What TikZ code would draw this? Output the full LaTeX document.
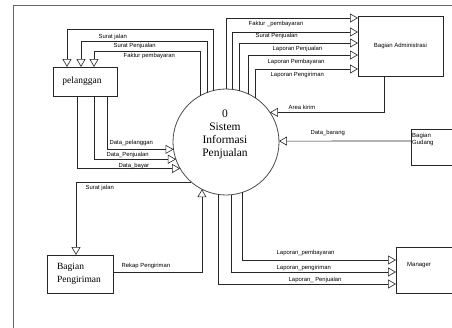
\documentclass[tikz,border=0pt]{standalone}
\usepackage{fontspec}
\setmainfont{Liberation Serif}
\setsansfont{Liberation Sans}
\usetikzlibrary{arrows.meta}
\begin{document}
\begin{tikzpicture}[x=1pt,y=-1pt,
  frame/.style={draw=black!60, line width=1pt},
  box/.style={draw=black!85, line width=0.8pt, rectangle, inner sep=1pt, outer sep=0pt, anchor=north west},
  flow/.style={draw=black!85, line width=0.6pt, -{Triangle[open,length=8pt,width=9pt]}},
  lbl/.style={font=\sffamily\fontsize{5.9}{6.6}\selectfont, inner sep=0.5pt, anchor=west},
  serif/.style={font=\rmfamily\fontsize{9.5}{12.5}\selectfont}]
\useasboundingbox (0,0) rectangle (452,327);
\clip (0,0) rectangle (452,327);
\fill[white] (0,0) rectangle (452,327);
\draw[frame] (13,330) -- (13,5) -- (460,5);

% entities
\node[box, serif, minimum width=64pt, minimum height=29pt] (pel) at (53,67) {pelanggan\hspace*{6pt}};
\node[box, font=\sffamily\fontsize{6}{7}\selectfont, minimum width=85pt, minimum height=60pt] (adm) at (358,16) {Bagian Administrasi};
\node[box, minimum width=60pt, minimum height=36pt,
  label={[name=gudtxt, anchor=north west, inner sep=1pt, yshift=-3pt, align=left, font=\sffamily\fontsize{6}{7}\selectfont]north west:Bagian\\Gudang}] (gud) at (411,129) {};
\node[box, minimum width=60pt, minimum height=46pt,
  label={[name=mantxt, anchor=west, inner sep=1pt, xshift=10pt, yshift=5pt, font=\sffamily\fontsize{6}{7}\selectfont]west:Manager}] (man) at (396,247) {};
\node[box, serif, minimum width=66pt, minimum height=38pt, align=left] (pen) at (47,255) {Bagian\\Pengiriman\hspace*{2pt}};
\node[circle, draw=black!70, line width=0.8pt, minimum size=106pt, inner sep=0pt, outer sep=0pt,
  label={[name=systxt, yshift=8pt, xshift=-1pt, align=center, font=\rmfamily\fontsize{11.5}{13}\selectfont]center:0\\Sistem\\Informasi\\Penjualan}] (sys) at (226,142) {};

% to pelanggan
\draw[flow] (sys.104.2) -- (sys.104.2 |- 0,29) -| ([xshift=-18pt]pel.north);
\draw[flow] (sys.111) -- (sys.111 |- 0,41) -| ([xshift=-4pt]pel.north);
\draw[flow] (sys.119.4) -- (sys.119.4 |- 0,51) -| ([xshift=9pt]pel.north);
\node[lbl] (l1) at (98,37) {Surat jalan};
\node[lbl] (l2) at (113,46) {Surat Penjualan};
\node[lbl] (l3) at (123,55.5) {Faktur pembayaran};

% to administrasi
\draw[flow] (sys.90) |- ([yshift=28pt]adm.west);
\draw[flow] (sys.83.5) |- ([yshift=14pt]adm.west);
\draw[flow] (sys.75.8) |- ([yshift=3pt]adm.west);
\draw[flow] (sys.65.5) |- ([yshift=-9pt]adm.west);
\draw[flow] (sys.56.9) |- ([yshift=-23pt]adm.west);
\node[lbl] (l4) at (248,24) {Faktur \_pembayaran};
\node[lbl] (l5) at (255,36) {Surat Penjualan};
\node[lbl] (l6) at (272,49) {Laporan Penjualan};
\node[lbl] (l7) at (267,62) {Laporan Pembayaran};
\node[lbl] (l8) at (270,75) {Laporan Pengiriman};

% area kirim, data barang
\draw[flow] ([xshift=-16.5pt]adm.south) |- (sys.34.5);
\node[lbl] (l9) at (288,107) {Area kirim};
\draw[flow] ([yshift=6pt]gud.west) -- (sys.1.1);
\node[lbl] (l10) at (310,133) {Data\_barang};

% from pelanggan
\draw[flow] ([xshift=22pt]pel.south) |- (sys.188.7);
\draw[flow] ([xshift=9pt]pel.south) |- (sys.199.9);
\draw[flow] ([xshift=-8pt]pel.south) |- (sys.210.6);
\node[lbl] (l11) at (109,143) {Data\_pelanggan};
\node[lbl] (l12) at (106,155) {Data\_Penjualan};
\node[lbl] (l13) at (118,166) {Data\_bayar};

% pengiriman
\draw[flow] (sys.229) -| ([xshift=-4pt]pen.north);
\node[lbl] (l14) at (85,188) {Surat jalan};
\draw[flow] ([yshift=2pt]pen.east) -| (sys.243.1);
\node[lbl] (l15) at (121,266) {Rekap Pengiriman};

% manager
\draw[flow] (sys.288.7) |- ([yshift=10pt]man.west);
\draw[flow] (sys.276.5) |- ([yshift=-2pt]man.west);
\draw[flow] (sys.262.4) |- ([yshift=-14pt]man.west);
\node[lbl] (l16) at (276,253) {Laporan\_pembayaran};
\node[lbl] (l17) at (276,268) {Laporan\_pengiriman};
\node[lbl] (l18) at (288,280) {Laporan\_ Penjualan};
\end{tikzpicture}
\end{document}
